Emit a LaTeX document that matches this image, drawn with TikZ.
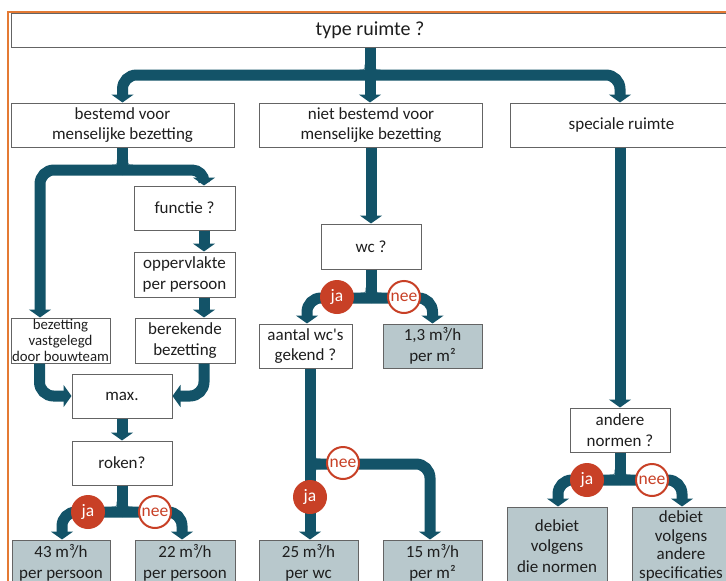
\documentclass[tikz,border=0pt]{standalone}
\usepackage{fontspec}
\setmainfont{Carlito}
\usetikzlibrary{arrows.meta}
\definecolor{pipec}{RGB}{19,83,104}
\definecolor{redc}{RGB}{200,64,38}
\definecolor{boxfill}{RGB}{184,200,204}
\definecolor{bordc}{RGB}{100,100,100}
\definecolor{orangec}{RGB}{228,122,52}
\definecolor{txt}{RGB}{30,30,30}
\begin{document}
\begin{tikzpicture}[x=1pt,y=-1pt,
  box/.style={draw=bordc, line width=1pt, fill=white, text=txt, align=center, inner sep=0pt, font=\fontsize{17}{20.5}\selectfont},
  res/.style={box, fill=boxfill},
  pipeline/.style={draw=pipec, line width=11pt},
  pipe/.style={pipeline, rounded corners=14pt, -{Triangle[width=22pt,length=8pt]}},
  ja/.style={circle, fill=redc, text=white, minimum size=34pt, inner sep=0pt, font=\fontsize{17.5}{17.5}\selectfont},
  nee/.style={circle, draw=redc, line width=2pt, fill=white, text=redc, minimum size=32pt, inner sep=0pt, font=\fontsize{17.5}{17.5}\selectfont},
  tjoin/.pic={\fill[pipec] (-10.5,-5.5) -- (-5.5,-5.5) -- (-5.5,-10.5) .. controls (-5.5,-5.5) .. (-10.5,-5.5) -- cycle;
              \fill[pipec] (10.5,-5.5) -- (5.5,-5.5) -- (5.5,-10.5) .. controls (5.5,-5.5) .. (10.5,-5.5) -- cycle;},
  rjoin/.pic={\fill[pipec] (5.5,-10.5) -- (5.5,-5.5) -- (10.5,-5.5) .. controls (5.5,-5.5) .. (5.5,-10.5) -- cycle;
              \fill[pipec] (5.5,10.5) -- (5.5,5.5) -- (10.5,5.5) .. controls (5.5,5.5) .. (5.5,10.5) -- cycle;},
]
\useasboundingbox (0,0) rectangle (726,581);
\fill[white] (0,0) rectangle (726,581);
\clip (0,0) rectangle (726,581);

% orange frame
\draw[orangec, line width=1.6pt] (8,600) -- (8,12) -- (740,12);

% nodes
\node[box, minimum width=718pt, minimum height=34pt, font=\fontsize{20}{24}\selectfont] (type) at (370,30) {type ruimte ?};
\node[box, minimum width=223pt, minimum height=44pt] (bestemd) at (122.5,125) {bestemd voor\\menselijke bezetting};
\node[box, minimum width=223pt, minimum height=44pt] (niet) at (371,125) {niet bestemd voor\\menselijke bezetting};
\node[box, minimum width=223pt, minimum height=44pt] (spec) at (621.5,125) {speciale ruimte};

\node[box, minimum width=101pt, minimum height=44pt] (functie) at (184.5,208) {functie ?};
\node[box, minimum width=101pt, minimum height=45pt] (opp) at (184.5,274.5) {oppervlakte\\per persoon};
\node[box, minimum width=100pt, minimum height=45pt] (berek) at (185,340.5) {berekende\\bezetting};
\node[box, minimum width=99pt, minimum height=45pt, font=\fontsize{14.8}{16}\selectfont] (vast) at (60.5,340.5) {bezetting\\vastgelegd\\door bouwteam};
\node[box, minimum width=100pt, minimum height=44pt] (max) at (122,396) {max.};
\node[box, minimum width=100pt, minimum height=44pt] (roken) at (122,463) {roken?};
\node[res, minimum width=98pt, minimum height=46pt] (r43) at (61,563) {43 m³/h\\per persoon};
\node[res, minimum width=100pt, minimum height=46pt] (r22) at (185,563) {22 m³/h\\per persoon};

\node[box, minimum width=100pt, minimum height=45pt] (wc) at (371,246.5) {wc ?};
\node[box, minimum width=93pt, minimum height=44pt] (aantal) at (305.5,346) {aantal wc\textquotesingle s\\gekend ?};
\node[res, minimum width=99pt, minimum height=44pt] (m13) at (432.5,346) {1,3 m³/h\\per m²};
\node[res, minimum width=99pt, minimum height=46pt] (r25) at (308.5,563) {25 m³/h\\per wc};
\node[res, minimum width=99pt, minimum height=46pt] (r15) at (432.5,563) {15 m³/h\\per m²};

\node[box, minimum width=100pt, minimum height=44pt] (andere) at (620,430) {andere\\normen ?};
\node[res, minimum width=100pt, minimum height=78pt] (deb1) at (557,546) {debiet\\volgens\\die normen};
\node[res, minimum width=98pt, minimum height=78pt, font=\fontsize{17}{18.5}\selectfont] (deb2) at (681,546) {debiet\\volgens\\andere\\specificaties};

% junction points
\coordinate (j1) at (370,75);
\coordinate (j2) at (122,170);
\coordinate (j3) at (122,512);
\coordinate (j4) at (371,298);
\coordinate (j5) at (310,464);
\coordinate (j6) at (620,480);

% top level
\draw[pipeline] (type.south) -- (j1);
\draw[pipe] (j1) -| (bestemd.north);
\draw[pipe] (j1) -- (j1 |- niet.north);
\draw[pipe] (j1) -| ([xshift=-1.5pt]spec.north);

% left column
\draw[pipeline] (bestemd.south) -- (bestemd.south |- j2);
\draw[pipe] (j2) -| ([xshift=-20.5pt]vast.north);
\draw[pipe, rounded corners=12pt] (j2) -| ([xshift=19.5pt]functie.north);
\draw[pipe] ([xshift=19.5pt]functie.south) -- ([xshift=19.5pt]opp.north);
\draw[pipe] ([xshift=19.5pt]opp.south) -- ([xshift=19pt]berek.north);
\draw[pipe] ([xshift=-21pt]vast.south) |- (max.west);
\draw[pipe] ([xshift=19pt]berek.south) |- (max.east);
\draw[pipe] (max.south) -- (roken.north);
\draw[pipeline] (roken.south) -- (j3);
\draw[pipe] (j3) -| ([xshift=1pt]r43.north);
\draw[pipe] (j3) -| ([xshift=-3pt]r22.north);

% middle column
\draw[pipe] (niet.south) -- (wc.north);
\draw[pipeline] (wc.south) -- (j4);
\draw[pipe] (j4) -| ([xshift=1.5pt]aantal.north);
\draw[pipe] (j4) -| (m13.north);
\draw[pipe] ([xshift=4.5pt]aantal.south) -- ([xshift=1.5pt]r25.north);
\draw[pipe] (j5) -| ([xshift=-2.5pt]r15.north);

% right column
\draw[pipe] ([xshift=-1.5pt]spec.south) -- (andere.north);
\draw[pipeline] (andere.south) -- (j6);
\draw[pipe] (j6) -| ([xshift=1pt]deb1.north);
\draw[pipe] (j6) -| ([xshift=1pt]deb2.north);

% junction fillets
\pic at (j1) {tjoin};
\pic at (bestemd.south |- j2) {tjoin};
\pic at (j3) {tjoin};
\pic at (j4) {tjoin};
\pic at (j5) {rjoin};
\pic at (j6) {tjoin};

% ja / nee markers
\node[ja] (ja1) at (88,512) {ja};
\node[nee] (nee1) at (155,512) {nee};
\node[ja] (ja2) at (337,297) {ja};
\node[nee] (nee2) at (404,297) {nee};
\node[ja] (ja3) at (310,497) {ja};
\node[nee] (nee3) at (343,463) {nee};
\node[ja] (ja4) at (587,480) {ja};
\node[nee] (nee4) at (652,480) {nee};
\end{tikzpicture}
\end{document}
